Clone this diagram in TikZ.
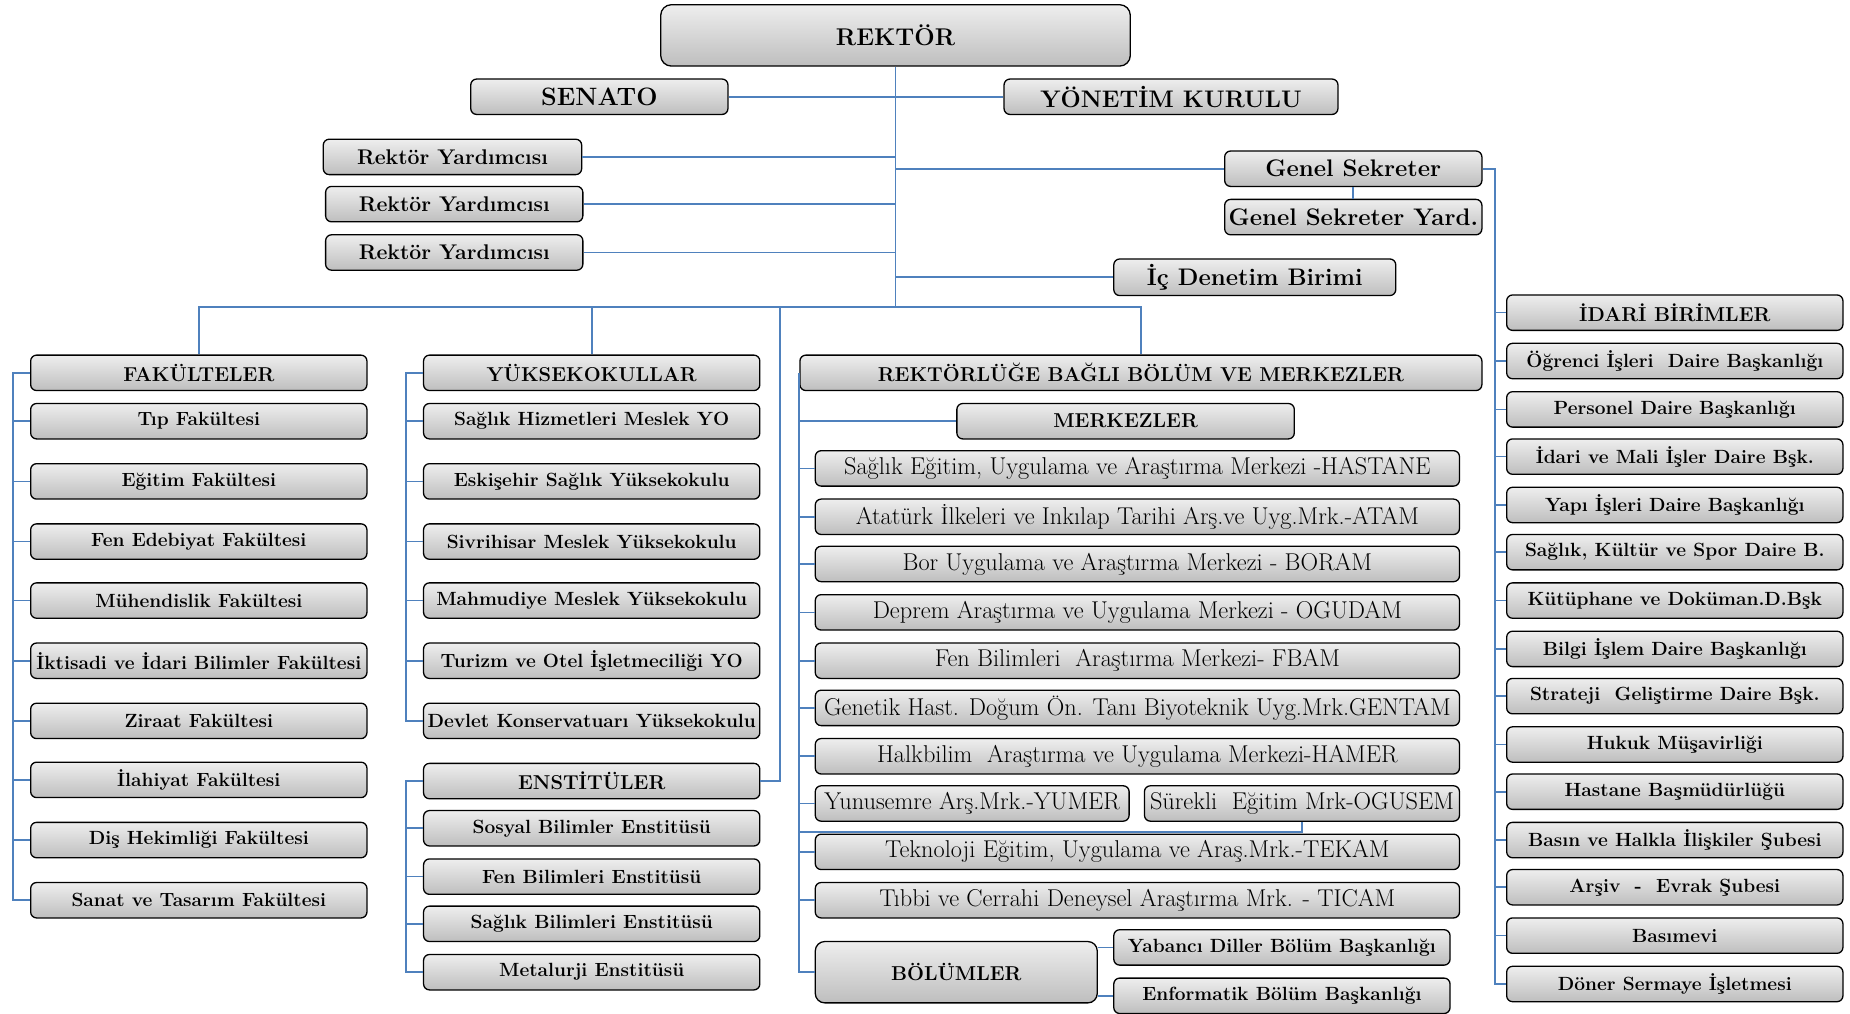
\documentclass[tikz,border=0pt]{standalone}
\usepackage{fontspec}
\usetikzlibrary{calc}
\definecolor{lnblue}{RGB}{79,129,189}
\definecolor{gtop}{RGB}{238,238,238}
\definecolor{gbot}{RGB}{190,190,190}
\begin{document}
\begin{tikzpicture}[x=1pt,y=-1pt,
  box/.style={draw=black,line width=1.1pt,rounded corners=5pt,top color=gtop,bottom color=gbot,
    minimum height=30pt,inner sep=0pt,align=center},
  conn/.style={draw=lnblue,line width=1.4pt},
  hd/.style={font=\fontsize{17}{19}\selectfont\bfseries},
  itm/.style={font=\fontsize{16.2}{18}\selectfont\bfseries},
  big/.style={font=\fontsize{20.3}{22}\selectfont\bfseries},
  ryf/.style={font=\fontsize{18}{20}\selectfont\bfseries},
  reg/.style={font=\fontsize{20.6}{22}\selectfont},
  colA/.style={box,minimum width=285pt},
  colM/.style={box,minimum width=546pt,reg},
]
\useasboundingbox (0,0) rectangle (1568,859);
% top
\node[box,rounded corners=9pt,minimum width=398pt,minimum height=52pt,font=\fontsize{20.5}{22}\selectfont\bfseries] (rek) at (759,30) {REKTÖR};
\node[box,minimum width=218pt,font=\fontsize{21.3}{23}\selectfont\bfseries] (sen) at (508,82) {SENATO};
\node[box,minimum width=283pt,big] (yon) at (992.5,82) {YÖNETİM KURULU};
\node[box,minimum width=219pt,ryf] (ry1) at (383.5,133) {Rektör Yardımcısı};
\node[box,minimum width=218pt,ryf] (ry2) at (385,173) {Rektör Yardımcısı};
\node[box,minimum width=218pt,ryf] (ry3) at (385,214) {Rektör Yardımcısı};
\node[box,minimum width=218pt,big] (gs) at (1147,143) {Genel Sekreter};
\node[box,minimum width=218pt,big] (gsy) at (1147,184) {Genel Sekreter Yard.};
\node[box,minimum width=239pt,minimum height=31pt,big] (ic) at (1063.5,235) {İç Denetim Birimi};
% faculties
\node[colA,hd] (f0) at (168.5,316) {FAKÜLTELER};
\node[colA,itm] (f1) at (168.5,357) {Tıp Fakültesi};
\node[colA,itm] (f2) at (168.5,408) {Eğitim Fakültesi};
\node[colA,itm] (f3) at (168.5,459) {Fen Edebiyat Fakültesi};
\node[colA,itm] (f4) at (168.5,509) {Mühendislik Fakültesi};
\node[colA,itm] (f5) at (168.5,560) {İktisadi ve İdari Bilimler Fakültesi};
\node[colA,itm] (f6) at (168.5,611) {Ziraat Fakültesi};
\node[colA,itm] (f7) at (168.5,661) {İlahiyat Fakültesi};
\node[colA,itm] (f8) at (168.5,712) {Diş Hekimliği Fakültesi};
\node[colA,itm] (f9) at (168.5,763) {Sanat ve Tasarım Fakültesi};
% yuksekokullar
\node[colA,hd] (y0) at (501.5,316) {YÜKSEKOKULLAR};
\node[colA,itm] (y1) at (501.5,357) {Sağlık Hizmetleri Meslek YO};
\node[colA,itm] (y2) at (501.5,408) {Eskişehir Sağlık Yüksekokulu};
\node[colA,itm] (y3) at (501.5,459) {Sivrihisar Meslek Yüksekokulu};
\node[colA,itm] (y4) at (501.5,509) {Mahmudiye Meslek Yüksekokulu};
\node[colA,itm] (y5) at (501.5,560) {Turizm ve Otel İşletmeciliği YO};
\node[colA,itm] (y6) at (501.5,611) {Devlet Konservatuarı Yüksekokulu};
% enstituler
\node[colA,hd] (e0) at (501.5,662) {ENSTİTÜLER};
\node[colA,itm] (e1) at (501.5,702) {Sosyal Bilimler Enstitüsü};
\node[colA,itm] (e2) at (501.5,743) {Fen Bilimleri Enstitüsü};
\node[colA,itm] (e3) at (501.5,783) {Sağlık Bilimleri Enstitüsü};
\node[colA,itm] (e4) at (501.5,824) {Metalurji Enstitüsü};
% merkezler
\node[box,minimum width=578pt,hd] (rb) at (967,316) {REKTÖRLÜĞE BAĞLI BÖLÜM VE MERKEZLER};
\node[box,minimum width=286pt,hd] (mk) at (954,357) {MERKEZLER};
\node[colM] (m1) at (964,397) {Sağlık Eğitim, Uygulama ve Araştırma Merkezi -HASTANE};
\node[colM] (m2) at (964,438) {Atatürk İlkeleri ve Inkılap Tarihi Arş.ve Uyg.Mrk.-ATAM};
\node[colM] (m3) at (964,478) {Bor Uygulama ve Araştırma Merkezi - BORAM};
\node[colM] (m4) at (964,519) {Deprem Araştırma ve Uygulama Merkezi - OGUDAM};
\node[colM] (m5) at (964,560) {Fen Bilimleri\ \ Araştırma Merkezi- FBAM};
\node[colM] (m6) at (964,600) {Genetik Hast. Doğum Ön. Tanı Biyoteknik Uyg.Mrk.GENTAM};
\node[colM] (m7) at (964,641) {Halkbilim\ \ Araştırma ve Uygulama Merkezi-HAMER};
\node[box,minimum width=266pt,reg] (yun) at (824,681) {Yunusemre Arş.Mrk.-YUMER};
\node[box,minimum width=267pt,reg] (sur) at (1103.5,681) {Sürekli\ \ Eğitim Mrk-OGUSEM};
\node[colM] (m8) at (964,722) {Teknoloji Eğitim, Uygulama ve Araş.Mrk.-TEKAM};
\node[colM] (m9) at (964,763) {Tıbbi ve Cerrahi Deneysel Araştırma Mrk. - TICAM};
\node[box,minimum width=239pt,minimum height=52pt,rounded corners=8pt,hd] (bol) at (810.5,824) {BÖLÜMLER};
\node[colA,itm] (yab) at (1086.5,803) {Yabancı Diller Bölüm Başkanlığı};
\node[colA,itm] (enf) at (1086.5,844) {Enformatik Bölüm Başkanlığı};
% idari
\node[colA,hd] (d0) at (1419.5,265) {İDARİ BİRİMLER};
\node[colA,itm] (d1) at (1419.5,306) {Öğrenci İşleri\ \ Daire Başkanlığı};
\node[colA,itm] (d2) at (1419.5,347) {Personel Daire Başkanlığı};
\node[colA,itm] (d3) at (1419.5,387) {İdari ve Mali İşler Daire Bşk.};
\node[colA,itm] (d4) at (1419.5,428) {Yapı İşleri Daire Başkanlığı};
\node[colA,itm] (d5) at (1419.5,468) {Sağlık, Kültür ve Spor Daire B.};
\node[colA,itm] (d6) at (1419.5,509) {Kütüphane ve Doküman.D.Bşk};
\node[colA,itm] (d7) at (1419.5,550) {Bilgi İşlem Daire Başkanlığı};
\node[colA,itm] (d8) at (1419.5,590) {Strateji\ \ Geliştirme Daire Bşk.};
\node[colA,itm] (d9) at (1419.5,631) {Hukuk Müşavirliği};
\node[colA,itm] (d10) at (1419.5,671) {Hastane Başmüdürlüğü};
\node[colA,itm] (d11) at (1419.5,712) {Basın ve Halkla İlişkiler Şubesi};
\node[colA,itm] (d12) at (1419.5,752) {Arşiv\ \ -\ \ Evrak Şubesi};
\node[colA,itm] (d13) at (1419.5,793) {Basımevi};
\node[colA,itm] (d14) at (1419.5,834) {Döner Sermaye İşletmesi};
% connectors
\coordinate (busM) at (759,260);
\coordinate (busE) at (661,260);
\coordinate (fL) at (11,0);
\coordinate (yL) at (344,0);
\coordinate (iL) at (1267,143);
\coordinate (surJ) at (678,705);
\draw[conn] (rek.south) -- (busM);
\draw[conn] (sen.east) -- (yon.west);
\draw[conn] (ry1.east) -- (ry1.east -| busM);
\draw[conn] (ry2.east) -- (ry2.east -| busM);
\draw[conn] (ry3.east) -- (ry3.east -| busM);
\draw[conn] (gs.west) -- (gs.west -| busM);
\draw[conn] (ic.west) -- (ic.west -| busM);
\draw[conn] (gs.south) -- (gsy.north);
\draw[conn] (f0.north) |- (busM) -| (rb.north);
\draw[conn] (y0.north) -- (y0.north |- busM);
\draw[conn] (e0.east) -| (busE);
\draw[conn] (f0.west) -- (f0.west -| fL) |- (f9.west);
\foreach \i in {1,...,8} \draw[conn] (f\i.west) -- (f\i.west -| fL);
\draw[conn] (y0.west) -- (y0.west -| yL) |- (y6.west);
\foreach \i in {1,...,5} \draw[conn] (y\i.west) -- (y\i.west -| yL);
\draw[conn] (e0.west) -- (e0.west -| yL) |- (e4.west);
\foreach \i in {1,...,3} \draw[conn] (e\i.west) -- (e\i.west -| yL);
\draw[conn] (rb.west) |- (bol.west);
\draw[conn] (mk.west) -- (mk.west -| rb.west);
\foreach \i in {1,...,9} \draw[conn] (m\i.west) -- (m\i.west -| rb.west);
\draw[conn] (yun.west) -- (yun.west -| rb.west);
\draw[conn] (sur.south) |- (surJ);
\draw[conn] (yab.west) -- (yab.west -| bol.east);
\draw[conn] (enf.west) -- (enf.west -| bol.east);
\draw[conn] (gs.east) -- (iL) |- (d14.west);
\foreach \i in {0,...,13} \draw[conn] (d\i.west) -- (d\i.west -| iL);
\end{tikzpicture}
\end{document}
